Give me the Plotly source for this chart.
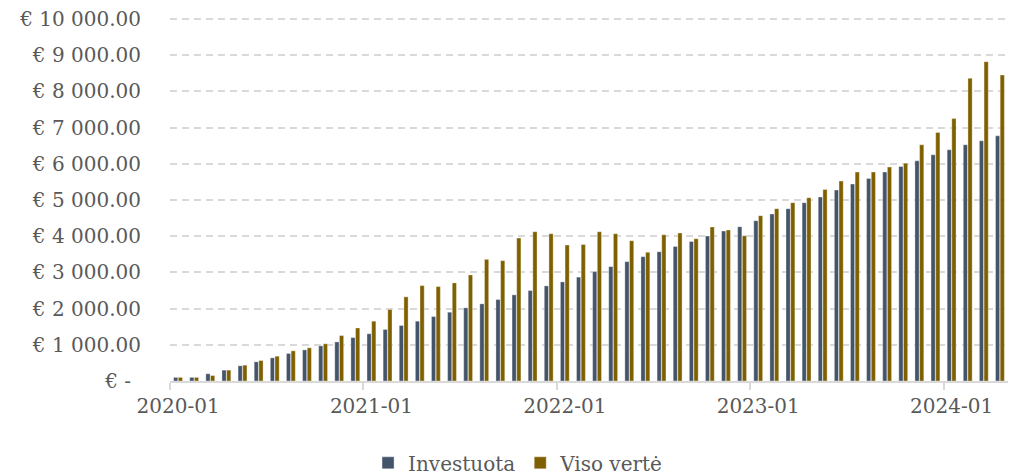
import plotly.graph_objects as go

months = [f"{y}-{m:02d}" for y in range(2020, 2025) for m in range(1, 13)][:52]

investuota = [100, 100, 200, 300, 420, 530, 640, 760, 860, 970, 1080, 1200,
              1305, 1424, 1534, 1653, 1782, 1901, 2022, 2132, 2251, 2380, 2499, 2628,
              2738, 2870, 3022, 3160, 3298, 3435, 3573, 3719, 3857, 4005, 4143, 4262,
              4430, 4614, 4761, 4926, 5083, 5276, 5441, 5597, 5772, 5928, 6085, 6250,
              6388, 6526, 6636, 6774]

viso_verte = [100, 100, 150, 300, 437, 566, 685, 834, 917, 1028, 1255, 1465,
              1653, 1975, 2325, 2636, 2609, 2710, 2931, 3361, 3325, 3950, 4124, 4069,
              3757, 3774, 4124, 4069, 3876, 3559, 4041, 4088, 3931, 4256, 4174, 4012,
              4568, 4761, 4926, 5064, 5294, 5524, 5772, 5772, 5910, 6020, 6526, 6866,
              7252, 8364, 8824, 8456]

y_ticks = list(range(0, 10001, 1000))
y_labels = ["€ -\u2002"] + [f"€ {v:,.2f}".replace(",", " ") for v in y_ticks[1:]]

FONT = "DejaVu Serif"
TXT = "#595959"
GRID = "#d9d9d9"

fig = go.Figure()
fig.add_trace(go.Bar(x=months, y=investuota, name="Investuota",
                     marker=dict(color="#44546A", line=dict(color="rgba(255,255,255,0.7)", width=0.5))))
fig.add_trace(go.Bar(x=months, y=viso_verte, name="Viso vertė",
                     marker=dict(color="#7F6000", line=dict(color="rgba(255,255,255,0.7)", width=0.5))))

fig.update_layout(
    width=1012, height=467,
    margin=dict(l=162, r=12, t=10, b=94, autoexpand=False),
    paper_bgcolor="white", plot_bgcolor="white",
    barmode="group", bargap=0.42, bargroupgap=0.1,
    font=dict(family=FONT, size=20, color=TXT),
    showlegend=True,
    legend=dict(orientation="h", xref="container", yref="container",
                x=0.504, xanchor="center", y=0.026, yanchor="middle",
                font=dict(family=FONT, size=20, color=TXT),
                itemclick=False),
)
fig.update_xaxes(type="category", tickmode="linear", tick0=0, dtick=12,
                 tickson="boundaries", ticks="outside", ticklen=7, tickwidth=1.5,
                 tickcolor=GRID, showline=True, linecolor=GRID, linewidth=1.5,
                 showgrid=False, tickfont=dict(family=FONT, size=20, color=TXT),
                 ticklabelstandoff=6, tickangle=0)
fig.update_yaxes(range=[0, 10030], tickvals=y_ticks, ticktext=y_labels,
                 showgrid=True, gridcolor=GRID, gridwidth=1.5, griddash="7px,5px",
                 zeroline=False, showline=False, ticks="",
                 ticklabelstandoff=28, ticklabeloverflow="allow",
                 tickfont=dict(family=FONT, size=20, color=TXT))

fig.write_html("out.html")
